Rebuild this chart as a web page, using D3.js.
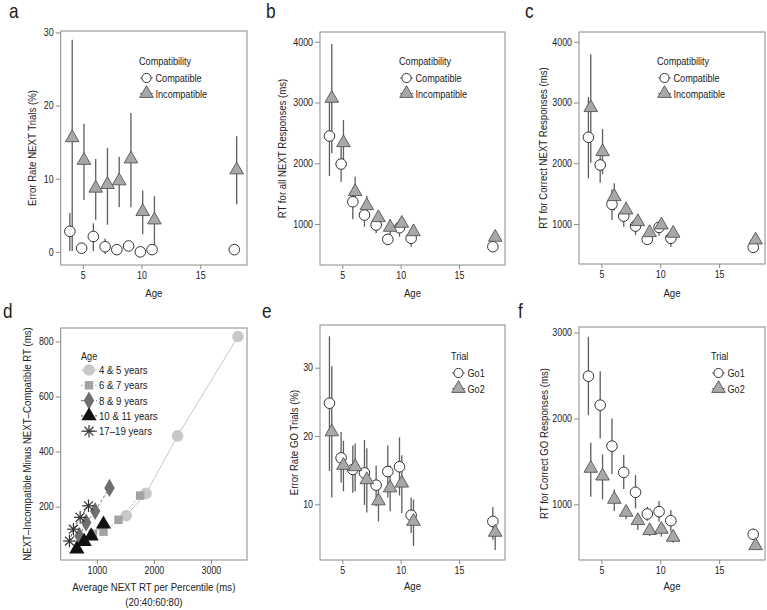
<!DOCTYPE html>
<html><head><meta charset="utf-8">
<script src="https://cdn.jsdelivr.net/npm/d3@7"></script>
<style>
body{margin:0;background:#fff;}
svg text{font-family:"Liberation Sans",Arial,Helvetica,sans-serif;fill:#222;}
</style></head>
<body><svg id="c" width="767" height="610"></svg>
<script>
// ---------- data ----------
const ages = [4,5,6,7,8,9,10,11,18];
const ageTicks = [5,10,15];

// a: Error rate NEXT trials (%)
const errCompat    = [2.8,0.5,2.1,0.7,0.3,0.8,0.0,0.3,0.3];
const errCompatLo  = [0.1,-0.2,0.1,-0.3,0.0,0.1,-0.2,-0.3,0.0];
const errCompatHi  = [5.3,1.2,3.9,1.8,0.7,1.5,0.2,1.0,0.6];
const errIncomp    = [15.6,12.5,8.7,9.2,9.7,12.7,5.5,4.35,11.2];
const errIncompLo  = [0.1,7.1,4.4,3.7,6.1,6.1,2.4,0.9,6.5];
const errIncompHi  = [29.0,17.5,12.7,14.2,13.0,19.0,8.4,7.6,15.8];
const ticksA = [0,10,20,30];

// b: RT for all NEXT responses (ms)
const rtAllCompat   = [2448,1987,1367,1148,984,748,940,765,627];
const rtAllCompatLo = [1790,1697,1077,956,847,690,792,627,580];
const rtAllCompatHi = [3100,2270,1600,1300,1080,840,1070,900,680];
const rtAllIncomp   = [3068,2338,1532,1301,1104,945,1011,873,781];
const rtAllIncompLo = [2163,2050,1340,1150,1000,833,900,800,740];
const rtAllIncompHi = [3962,2711,1779,1466,1200,1077,1093,1000,820];
const ticksB = [1000,2000,3000,4000];

// c: RT for correct NEXT responses (ms)
const rtCorCompat   = [2427,1971,1324,1131,967,748,945,765,616];
const rtCorCompatLo = [1752,1680,1066,956,819,700,805,627,580];
const rtCorCompatHi = [3090,2200,1571,1250,1060,790,1050,880,660];
const rtCorIncomp   = [2915,2190,1450,1230,1038,857,984,847,737];
const rtCorIncompLo = [2010,1818,1220,1100,950,790,900,780,700];
const rtCorIncompHi = [3793,2563,1670,1367,1148,920,1082,960,780];

// d: NEXT-Incompatible minus NEXT-Compatible RT vs average RT per percentile
const dGroups = ["4 & 5 years","6 & 7 years","8 & 9 years","10 & 11 years","17\u201319 years"];
const dX = [
  [1514,1862,2415,3474],
  [930,1116,1379,1760],
  [695,812,970,1221],
  [649,777,900,1116],
  [519,589,707,853]
];
const dY = [
  [167,248,457,818],
  [101,109,152,240],
  [93,142,184,268],
  [46,73,93,136],
  [75,118,161,203]
];
const ticksDX = [1000,2000,3000];
const ticksDY = [200,400,600,800];

// e: Error rate GO trials (%)
const errGo1   = [24.8,16.8,15.1,14.6,12.8,14.8,15.5,8.4,7.5];
const errGo1Lo = [14.9,13.2,11.7,9.9,9.7,11.0,11.3,5.8,4.8];
const errGo1Hi = [34.6,20.6,18.6,19.4,15.7,18.6,19.8,11.0,9.6];
const errGo2   = [20.6,15.7,15.5,13.6,10.5,12.4,13.1,7.5,5.9];
const errGo2Lo = [11.0,11.9,11.9,8.8,7.5,9.0,8.7,3.9,3.3];
const errGo2Hi = [30.2,19.3,18.9,18.2,12.6,15.7,17.2,10.7,8.2];
const ticksE = [10,20,30];

// f: RT for correct GO responses (ms)
const rtGo1   = [2492,2155,1678,1372,1140,888,915,810,651];
const rtGo1Lo = [2039,1767,1353,1178,953,810,798,682,585];
const rtGo1Hi = [2950,2550,2000,1574,1341,973,1039,934,713];
const rtGo2   = [1419,1329,1058,907,810,694,709,616,519];
const rtGo2Lo = [1089,1058,922,826,702,632,624,554,500];
const rtGo2Hi = [1717,1581,1174,973,895,748,787,663,540];
const ticksF = [1000,2000,3000];

// ---------- drawing ----------
const svg = d3.select("#c");
const SX = 0.86;               // horizontal squeeze to imitate a condensed face
const FONT_T = 10.3, FONT_AX = 11.2, FONT_LEG = 10.6;

function txt(g, x, y, s, size, anchor, rot){
  return g.append("text")
    .attr("transform",`translate(${x},${y})${rot?` rotate(${rot})`:""} scale(${SX},1)`)
    .attr("text-anchor",anchor||"start").attr("font-size",size).text(s);
}

function frame(p){
  const g = svg.append("g");
  const x = d3.scaleLinear().domain(p.xd).range([p.l,p.r]);
  const y = d3.scaleLinear().domain(p.yd).range([p.b,p.t]);
  g.append("rect").attr("x",p.l).attr("y",p.t).attr("width",p.r-p.l).attr("height",p.b-p.t)
    .attr("fill","none").attr("stroke","#8a8a8a").attr("stroke-width",1);
  const ax = g.append("g").attr("transform",`translate(0,${p.b})`)
    .call(d3.axisBottom(x).tickValues(p.xt).tickSize(4).tickPadding(3).tickFormat(d3.format("d")));
  const ay = g.append("g").attr("transform",`translate(${p.l},0)`)
    .call(d3.axisLeft(y).tickValues(p.yt).tickSize(5).tickPadding(2).tickFormat(d3.format("d")));
  [ax,ay].forEach(a=>{
    a.select(".domain").remove();
    a.selectAll("line").attr("stroke","#8a8a8a");
    a.selectAll("text").attr("font-size",FONT_T).attr("fill","#333")
      .style("font-family",'"Liberation Sans",Arial,sans-serif');
  });
  ay.selectAll("text").attr("x",-7/SX).attr("transform",`scale(${SX},1)`);
  ax.selectAll("text").attr("transform",`scale(${SX},1)`);
  txt(g,p.lx,p.ly,p.letter,20);
  txt(g,(p.l+p.r)/2,p.xty,p.xtitle,FONT_AX,"middle");
  if(p.xtitle2) txt(g,(p.l+p.r)/2,p.xty+14.5,p.xtitle2,FONT_AX,"middle");
  txt(g,p.ytx,(p.t+p.b)/2,p.ytitle,FONT_AX,"middle",-90);
  return {g,x,y};
}

const triSym = d3.symbol().type(d3.symbolTriangle).size(80);

function dual(p, s1, s2, names, title){
  const {g,x,y} = frame(p);
  const off = 0.1;
  [[s1,-off],[s2,off]].forEach(([s,o])=>{
    g.append("g").selectAll("line").data(ages).join("line")
      .attr("x1",(d)=>x(d+o)).attr("x2",(d)=>x(d+o))
      .attr("y1",(d,i)=>y(s.lo[i])).attr("y2",(d,i)=>y(s.hi[i]))
      .attr("stroke","#5e5e5e").attr("stroke-width",1.3);
  });
  g.append("g").selectAll("circle").data(ages).join("circle")
    .attr("cx",(d)=>x(d-off)).attr("cy",(d,i)=>y(s1.m[i])).attr("r",5.3)
    .attr("fill","#fff").attr("stroke","#333").attr("stroke-width",1);
  g.append("g").selectAll("path").data(ages).join("path")
    .attr("d",triSym).attr("transform",(d,i)=>`translate(${x(d+off)},${y(s2.m[i])})`)
    .attr("fill","#a8a8a8").attr("stroke","#555").attr("stroke-width",0.9);
  // legend
  const L = p.leg;
  txt(g,L.x,L.y,title,FONT_LEG);
  [0,1].forEach(k=>{
    const cy = L.y+13+k*15.5, cx = L.x+7.5;
    g.append("line").attr("x1",cx-6.5).attr("x2",cx+6.5).attr("y1",cy).attr("y2",cy)
      .attr("stroke","#777").attr("stroke-width",1);
    if(k===0) g.append("circle").attr("cx",cx).attr("cy",cy).attr("r",4.6)
      .attr("fill","#fff").attr("stroke","#333");
    else g.append("path").attr("d",triSym).attr("transform",`translate(${cx},${cy})`)
      .attr("fill","#a8a8a8").attr("stroke","#555").attr("stroke-width",0.9);
    txt(g,cx+9,cy+4,names[k],FONT_LEG);
  });
}

dual({l:60.7,r:247,t:31,b:265,xd:[3.12,18.98],yd:[-1.8,30.2],xt:ageTicks,yt:ticksA,
  letter:"a",lx:9,ly:18,xtitle:"Age",xty:297,ytitle:"Error Rate NEXT Trials (%)",ytx:35.5,
  leg:{x:139,y:65}},
  {m:errCompat,lo:errCompatLo,hi:errCompatHi},{m:errIncomp,lo:errIncompLo,hi:errIncompHi},
  ["Compatible","Incompatible"],"Compatibility");

dual({l:320,r:505,t:32,b:265,xd:[3.09,18.94],yd:[326,4160],xt:ageTicks,yt:ticksB,
  letter:"b",lx:266,ly:18,xtitle:"Age",xty:297,ytitle:"RT for all NEXT Responses (ms)",ytx:285.5,
  leg:{x:399,y:65}},
  {m:rtAllCompat,lo:rtAllCompatLo,hi:rtAllCompatHi},{m:rtAllIncomp,lo:rtAllIncompLo,hi:rtAllIncompHi},
  ["Compatible","Incompatible"],"Compatibility");

dual({l:579,r:765,t:32,b:264,xd:[3.1,18.9],yd:[342,4160],xt:ageTicks,yt:ticksB,
  letter:"c",lx:525,ly:18,xtitle:"Age",xty:297,ytitle:"RT for Correct NEXT Responses (ms)",ytx:547,
  leg:{x:657,y:65}},
  {m:rtCorCompat,lo:rtCorCompatLo,hi:rtCorCompatHi},{m:rtCorIncomp,lo:rtCorIncompLo,hi:rtCorIncompHi},
  ["Compatible","Incompatible"],"Compatibility");

dual({l:320,r:505,t:325,b:560,xd:[3.09,18.94],yd:[1.85,36.25],xt:ageTicks,yt:ticksE,
  letter:"e",lx:262,ly:318,xtitle:"Age",xty:590,ytitle:"Error Rate GO Trials (%)",ytx:297.5,
  leg:{x:451,y:360}},
  {m:errGo1,lo:errGo1Lo,hi:errGo1Hi},{m:errGo2,lo:errGo2Lo,hi:errGo2Hi},
  ["Go1","Go2"],"Trial");

dual({l:579,r:765,t:327,b:560,xd:[3.1,18.9],yd:[352,3065],xt:ageTicks,yt:ticksF,
  letter:"f",lx:518,ly:318,xtitle:"Age",xty:590,ytitle:"RT for Correct GO Responses (ms)",ytx:547.5,
  leg:{x:711,y:360}},
  {m:rtGo1,lo:rtGo1Lo,hi:rtGo1Hi},{m:rtGo2,lo:rtGo2Lo,hi:rtGo2Hi},
  ["Go1","Go2"],"Trial");

// panel d
(function(){
  const p = {l:60.7,r:247,t:328,b:560,xd:[366,3632],yd:[6,849],xt:ticksDX,yt:ticksDY,
    letter:"d",lx:3,ly:318,xtitle:"Average NEXT RT per Percentile (ms)",xtitle2:"(20:40:60:80)",xty:591,
    ytitle:"NEXT\u2013Incompatible Minus NEXT\u2013Compatible RT (ms)",ytx:31};
  const {g,x,y} = frame(p);
  const cols = ["#c8c8c8","#a3a3a3","#6f6f6f","#111111","#333333"];
  const lcols = ["#c8c8c8","#a3a3a3","#777777","#444444","#555555"];
  const dash = [null,"1.5,2","3,2","2,1.5","3,1.5"];
  const sq = d3.symbol().type(d3.symbolSquare).size(72);
  const dia = d3.symbol().type(d3.symbolDiamond).size(95);
  const tri = d3.symbol().type(d3.symbolTriangle).size(100);
  const circ = d3.symbol().type(d3.symbolCircle).size(105);
  function marker(sel,k,cx,cy){
    if(k===4){
      const r = 6.3, gg = sel.append("g").attr("transform",`translate(${cx},${cy})`);
      [0,45,90,135].forEach(a=>{
        const rad=a*Math.PI/180;
        gg.append("line").attr("x1",-r*Math.cos(rad)).attr("y1",-r*Math.sin(rad))
          .attr("x2",r*Math.cos(rad)).attr("y2",r*Math.sin(rad))
          .attr("stroke",cols[k]).attr("stroke-width",1.2);
      });
    } else {
      const s = [circ,sq,dia,tri][k];
      sel.append("path").attr("d",s).attr("transform",`translate(${cx},${cy})`)
        .attr("fill",cols[k]);
    }
  }
  const line = d3.line();
  dGroups.forEach((name,k)=>{
    const pts = dX[k].map((v,i)=>[x(v),y(dY[k][i])]);
    g.append("path").attr("d",line(pts)).attr("fill","none").attr("stroke",lcols[k])
      .attr("stroke-width",1).attr("stroke-dasharray",dash[k]);
  });
  dGroups.forEach((name,k)=>{
    dX[k].forEach((v,i)=>marker(g,k,x(v),y(dY[k][i])));
  });
  // legend
  txt(g,81,360,"Age",FONT_LEG);
  dGroups.forEach((name,k)=>{
    const cy = 370 + k*15.3, cx = 89;
    g.append("line").attr("x1",cx-8).attr("x2",cx+8).attr("y1",cy).attr("y2",cy)
      .attr("stroke",lcols[k]).attr("stroke-width",1).attr("stroke-dasharray",dash[k]);
    marker(g,k,cx,cy);
    txt(g,cx+10,cy+4,name,FONT_LEG+0.6);
  });
})();
</script></body></html>
